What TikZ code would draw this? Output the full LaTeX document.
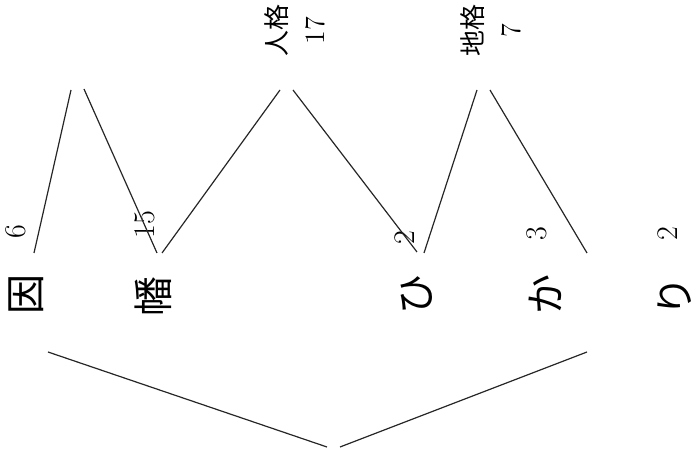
\documentclass[tikz,border=0pt]{standalone}
\usepackage{fontspec}
\newfontfamily\jpfont{Noto Sans CJK JP}
\usepackage{tikz}
\usetikzlibrary{positioning}

\begin{document}
\begin{tikzpicture}[x=0.5pt,y=-0.5pt,
  namechar/.style={rotate=90,inner sep=0pt,font=\jpfont\fontsize{20}{22}\selectfont},
  strokes/.style={rotate=90,inner sep=0pt,font=\fontsize{15}{16}\selectfont},
  kaku/.style={rotate=90,inner sep=0pt,align=center,font=\fontsize{14}{19}\selectfont},
  ln/.style={line width=0.6pt,black!85}
]
\useasboundingbox (0,0) rectangle (692,454);

% name, read from left to right
\node[namechar] (in)  at (26,295)  {因};
\node[namechar] (ban) at (153,297) {幡};
\node[namechar] (hi)  at (417,295) {ひ};
\node[namechar] (ka)  at (545,295) {か};
\node[namechar] (ri)  at (675,297) {り};

% stroke counts
\node[strokes] (n1) at (16,232)  {6};
\node[strokes] (n2) at (145,225) {15};
\node[strokes] (n3) at (405,238) {2};
\node[strokes] (n4) at (537,234) {3};
\node[strokes] (n5) at (668,234) {2};

% grade labels
\node[kaku] (jin) at (295,31) {{\jpfont\fontsize{13}{19}\selectfont 人格}\\17};
\node[kaku] (chi) at (491,31) {{\jpfont\fontsize{13}{19}\selectfont 地格}\\7};

% bracket ends
\coordinate (tenL) at (71,90);   \coordinate (tenR) at (84,89);
\coordinate (jinL) at (280,90);  \coordinate (jinR) at (293,90);
\coordinate (chiL) at (477,90);  \coordinate (chiR) at (490,90);
\coordinate (gaiL) at (327,447); \coordinate (gaiR) at (340,447);
\coordinate (inT)  at (34,253);
\coordinate (banT) at (157,253); \coordinate (banU) at (162,253);
\coordinate (hiT)  at (417,252); \coordinate (hiU)  at (424,253);
\coordinate (kaT)  at (587,253);
\coordinate (inB)  at (48,352);  \coordinate (kaB)  at (587,352);

\draw[ln] (tenL) -- (inT);
\draw[ln] (tenR) -- (banT);
\draw[ln] (jinL) -- (banU);
\draw[ln] (jinR) -- (hiT);
\draw[ln] (chiL) -- (hiU);
\draw[ln] (chiR) -- (kaT);
\draw[ln] (inB) -- (gaiL);
\draw[ln] (gaiR) -- (kaB);
\end{tikzpicture}
\end{document}
